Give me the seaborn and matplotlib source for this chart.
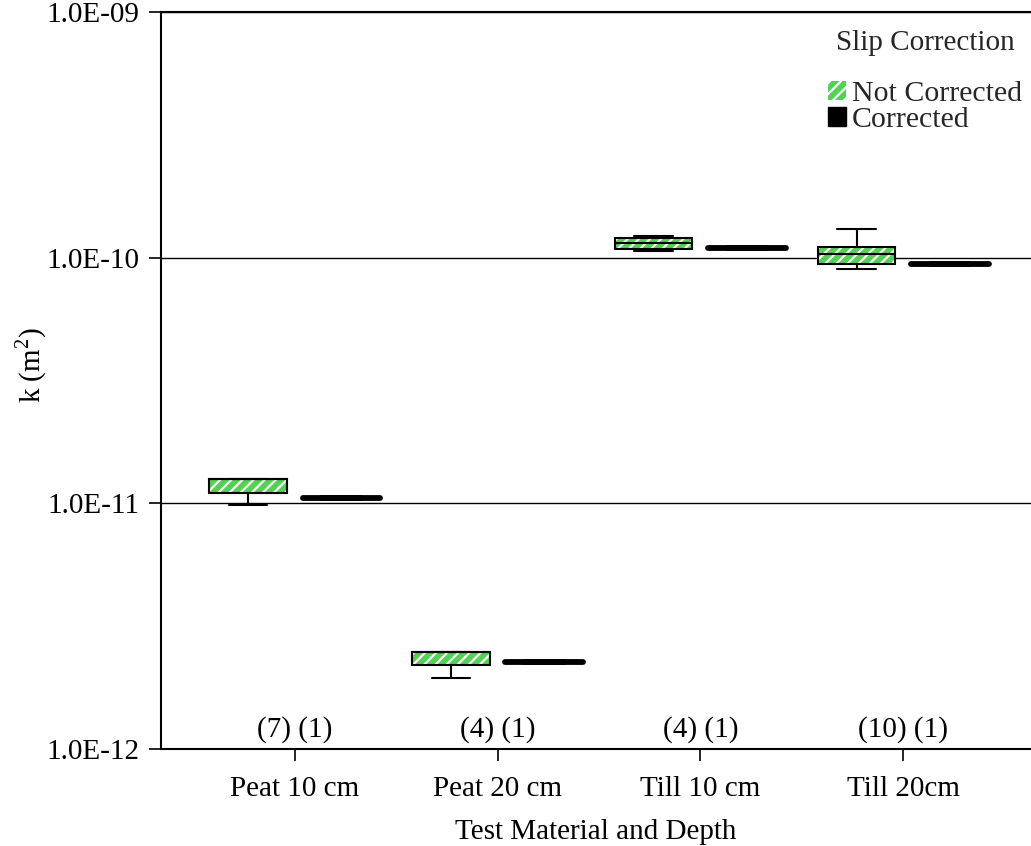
import numpy as np
import pandas as pd
import matplotlib
matplotlib.use("Agg")
import matplotlib.pyplot as plt
from matplotlib.patches import Patch, PathPatch
from matplotlib.ticker import FuncFormatter, FixedLocator, NullLocator
import matplotlib.transforms as mtransforms
import seaborn as sns

categories = ["Peat 10 cm", "Peat 20 cm", "Till 10 cm", "Till 20cm"]
hue_levels = ["Not Corrected", "Corrected"]

# five-number summaries (min, Q1, median, Q3, max) of permeability k, m^2
nc_min = [9.85e-12, 1.95e-12, 1.067e-10, 8.99e-11]
nc_q1 = [1.10e-11, 2.20e-12, 1.081e-10, 9.42e-11]
nc_med = [1.256e-11, 2.48e-12, 1.144e-10, 1.032e-10]
nc_q3 = [1.256e-11, 2.48e-12, 1.206e-10, 1.102e-10]
nc_max = [1.256e-11, 2.48e-12, 1.228e-10, 1.308e-10]
# single slip-corrected value per material/depth
corrected = [1.05e-11, 2.26e-12, 1.092e-10, 9.42e-11]

n_not = [7, 4, 4, 10]
n_corr = [1, 1, 1, 1]

yticks = [1e-12, 1e-11, 1e-10, 1e-9]

GREEN = "#52d152"
FONT = "Liberation Serif"
FS = 21

sns.set_theme(style="ticks")
plt.rcParams["font.family"] = [FONT, "DejaVu Serif"]
plt.rcParams["mathtext.fontset"] = "custom"
plt.rcParams["mathtext.rm"] = FONT
plt.rcParams["hatch.linewidth"] = 1.6

rows = []
for i, cat in enumerate(categories):
    for v in (nc_min[i], nc_q1[i], nc_med[i], nc_q3[i], nc_max[i]):
        rows.append((cat, hue_levels[0], v))
df_nc = pd.DataFrame(rows, columns=["material", "slip", "k"])
df_c = pd.DataFrame(
    [(cat, hue_levels[1], v) for cat, v in zip(categories, corrected)],
    columns=["material", "slip", "k"],
)

fig = plt.figure(figsize=(10.31, 8.46), dpi=100)
ax = fig.add_axes([0.156, 0.1147, 0.844, 0.8711])

common = dict(x="material", y="k", hue="slip", hue_order=hue_levels,
              order=categories, width=0.92, gap=0.17, dodge=True,
              whis=(0, 100), showfliers=False, log_scale=True,
              legend=False, ax=ax)
pal = {hue_levels[0]: GREEN, hue_levels[1]: "black"}

# uncorrected: hatched boxes
p0 = len(ax.patches)
sns.boxplot(data=df_nc, palette=pal, linewidth=1.5, linecolor="black", **common)
for p in list(ax.patches[p0:]):
    p.set_facecolor(GREEN)
    p.set_edgecolor("white")
    p.set_hatch("///")
    p.set_linewidth(0)
    outline = PathPatch(p.get_path(), transform=p.get_transform(),
                        facecolor="none", edgecolor="black", linewidth=1.5,
                        zorder=p.get_zorder() + 0.1)
    ax.add_patch(outline)

# corrected: single values collapse to a thick bar
p1 = len(ax.patches)
l1 = len(ax.lines)
sns.boxplot(data=df_c, palette=pal, linewidth=4.2, linecolor="black", **common)
for p in ax.patches[p1:]:
    p.set_visible(False)
for ln in ax.lines[l1:]:
    ln.set_solid_capstyle("round")

ax.set_yscale("log")
ax.set_ylim(1e-12, 1e-9)
ax.set_xlim(-0.66, 3.63)
ax.yaxis.set_major_locator(FixedLocator(yticks))
ax.yaxis.set_minor_locator(NullLocator())
ax.yaxis.set_major_formatter(FuncFormatter(lambda v, _: f"{v:.1E}"))
ax.grid(axis="y", color="black", linewidth=1.0)
ax.set_axisbelow(True)

for side in ("left", "top", "bottom"):
    ax.spines[side].set_color("black")
    ax.spines[side].set_linewidth(1.5)
ax.spines["right"].set_visible(False)
ax.tick_params(axis="both", which="major", direction="out", length=8.5,
               width=1.2, color="black", labelsize=FS, labelcolor="black")
ax.tick_params(axis="y", pad=7)
ax.tick_params(axis="x", pad=11)

ax.set_xlabel("Test Material and Depth", fontsize=FS, color="black", labelpad=12)
ax.set_ylabel(r"k (m$^\mathrm{2}$)", fontsize=FS, color="black")
ax.yaxis.set_label_coords(-0.128, 0.521)

trans = mtransforms.blended_transform_factory(ax.transData, ax.transAxes)
for i in range(len(categories)):
    ax.text(i, 0.008, f"({n_not[i]}) ({n_corr[i]})", transform=trans,
            ha="center", va="bottom", fontsize=FS, color="black")

handles = [
    Patch(facecolor=GREEN, edgecolor="white", hatch="///", linewidth=0),
    Patch(facecolor="black", edgecolor="black"),
]
leg = ax.legend(handles, hue_levels, title="Slip Correction", loc="upper right",
                bbox_to_anchor=(1.0, 0.988), frameon=False, fontsize=FS + 0.5,
                title_fontsize=FS, handlelength=0.6, handleheight=0.6,
                handletextpad=0.2, labelspacing=0.0, borderpad=0.2,
                borderaxespad=0.1)
# room between the title and the entries
leg._legend_box.sep = 18

fig.savefig("out.png", dpi=100)
